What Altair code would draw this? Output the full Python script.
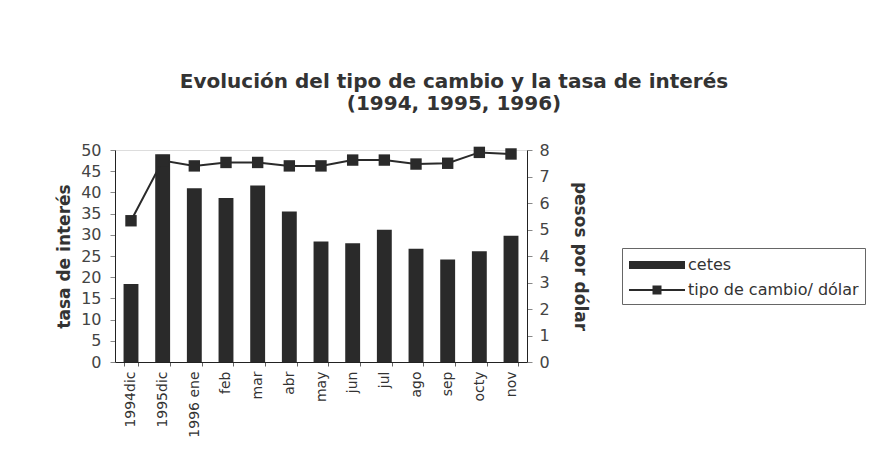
import altair as alt
import pandas as pd

meses = ["1994dic", "1995dic", "1996 ene", "feb", "mar", "abr", "may", "jun",
         "jul", "ago", "sep", "octy", "nov"]
cetes = [18.4, 49.0, 41.0, 38.7, 41.6, 35.5, 28.4, 28.0, 31.2, 26.7, 24.2, 26.1, 29.8]
tipo_cambio = [5.33, 7.6, 7.4, 7.53, 7.53, 7.4, 7.4, 7.62, 7.62, 7.47, 7.5, 7.91, 7.85]
series = ["cetes", "tipo de cambio/ dólar"]

df = pd.DataFrame({"mes": meses, "cetes": cetes, "tc": tipo_cambio})
df_leg = pd.DataFrame({"serie": series, "mes": [meses[0], meses[0]]})

FONT = "DejaVu Sans"
DARK = "#2a2a2a"

x_enc = alt.X("mes:N", sort=meses, title=None,
              scale=alt.Scale(paddingInner=0.53, paddingOuter=0.27),
              axis=alt.Axis(labelAngle=-90, labelFontSize=14, labelColor="#333",
                            tickBand="extent", tickColor="#666", tickSize=4,
                            domainColor="#222", labelPadding=5, labelFont=FONT))

bars = alt.Chart(df).mark_bar(color=DARK).encode(
    x=x_enc,
    y=alt.Y("cetes:Q", title="tasa de interés",
            scale=alt.Scale(domain=[0, 50], nice=False),
            axis=alt.Axis(values=list(range(0, 51, 5)), grid=False, labelFontSize=16,
                          labelColor="#444", tickColor="#888", tickSize=5,
                          labelPadding=9,
                          titleFontSize=17, titleFontWeight="bold", titleColor="#333",
                          titlePadding=7, domainColor="#222", labelFont=FONT,
                          titleFont=FONT)),
)

y_tc = alt.Y("tc:Q", title="pesos por dólar",
             scale=alt.Scale(domain=[0, 8], nice=False),
             axis=alt.Axis(orient="right", values=list(range(0, 9)), grid=False,
                           labelFontSize=16, labelColor="#444", tickColor="#888",
                           tickSize=5, labelPadding=7, titleFontSize=17,
                           titleFontWeight="bold", titleColor="#333", titlePadding=21,
                           domainColor="#222", labelFont=FONT, titleFont=FONT))

line = alt.Chart(df).mark_line(
    color=DARK, strokeWidth=2,
    point=alt.OverlayMarkDef(shape="square", filled=True, size=130, color=DARK, opacity=1),
).encode(x=alt.X("mes:N", sort=meses), y=y_tc)

bar_path = "M-1,-0.4 L4.6,-0.4 L4.6,0.4 L-1,0.4 Z"
line_path = ("M-1,-0.1 L4.6,-0.1 L4.6,0.1 L-1,0.1 Z "
             "M1.35,-0.45 L2.25,-0.45 L2.25,0.45 L1.35,0.45 Z")

legend_layer = alt.Chart(df_leg).mark_point(
    opacity=0, filled=True, color=DARK
).encode(
    x=alt.X("mes:N", sort=meses),
    shape=alt.Shape("serie:N", title=None,
                    scale=alt.Scale(domain=series, range=[bar_path, line_path]),
                    legend=alt.Legend(orient="none", legendX=507, legendY=98,
                                      symbolOpacity=1, symbolFillColor=DARK,
                                      symbolSize=400, labelFontSize=16,
                                      labelFont=FONT, labelColor="#333",
                                      labelOffset=38, rowPadding=6,
                                      strokeColor="#666", padding=6,
                                      labelLimit=300)),
)

right = alt.layer(line, legend_layer)

chart = alt.layer(bars, right).resolve_scale(y="independent").properties(
    width=412, height=212,
    title=alt.TitleParams(["Evolución del tipo de cambio y la tasa de interés",
                           "(1994, 1995, 1996)"],
                          fontSize=20, font=FONT, fontWeight="bold", color="#333",
                          lineHeight=22, dx=133, anchor="middle", offset=28),
    padding={"left": 107, "top": 142, "right": 345, "bottom": 106},
    autosize=alt.AutoSizeParams(type="none"),
).configure_view(stroke="#222", strokeWidth=1.2).configure(background="white")

chart.save("out.html", embed_options={"renderer": "svg", "actions": False})
